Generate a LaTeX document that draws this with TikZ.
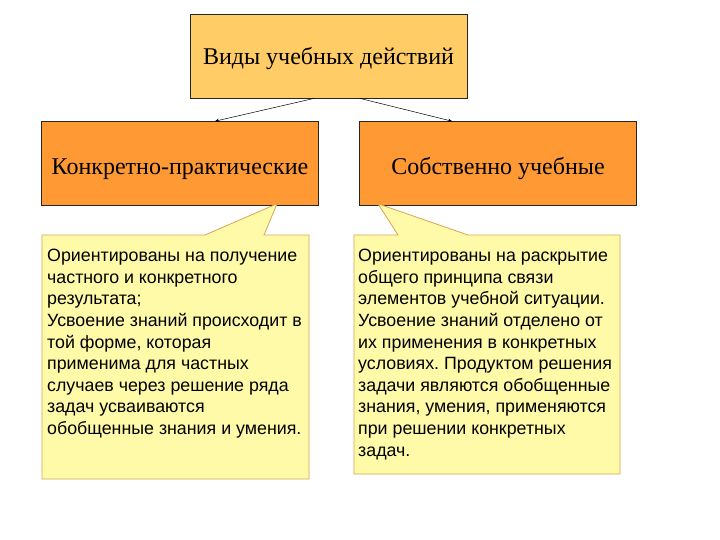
\documentclass[tikz,border=0pt]{standalone}
\usepackage{fontspec}
\setmainfont{Liberation Serif}
\setsansfont{Liberation Sans}
\usetikzlibrary{arrows.meta,positioning}
\frenchspacing

\definecolor{topfill}{HTML}{FFCC66}
\definecolor{kindfill}{HTML}{FF9933}
\definecolor{notefill}{HTML}{FFFAA8}
\definecolor{noteline}{HTML}{D6A453}

\tikzset{
  kindbox/.style={draw=black!85, line width=0.6pt, minimum width=277pt,
    minimum height=84pt, inner sep=0pt, text height=24pt, text depth=1pt,
    font=\fontsize{24}{28}\selectfont},
  notebox/.style={fill=notefill, draw=noteline, line width=0.8pt},
  notetext/.style={anchor=north west, inner sep=0pt, align=left,
    font=\sffamily\fontsize{17.8}{21.6}\selectfont},
  link/.style={line width=0.5pt, -{Stealth[length=4pt,width=3.5pt]}}
}

\begin{document}
\begin{tikzpicture}[x=1pt,y=-1pt]

    \useasboundingbox (0,0) rectangle (720,540);

    % top box
    \node[kindbox, fill=topfill, text height=19pt] (types) at (328.5,56) {Виды учебных действий};

    % two kinds
    \node[kindbox, fill=kindfill] (pract) at (180,163.5) {Конкретно-практические};
    \node[kindbox, fill=kindfill] (study) at (498,163.5) {Собственно учебные};

    % arrows
    \draw[link] ([xshift=-14pt]types.south) -- ([xshift=35pt]pract.north);
    \draw[link] ([xshift=31pt]types.south) -- ([xshift=-46pt]study.north);

    % callouts
    \coordinate (ptip) at ([xshift=97pt,yshift=2pt]pract.south);
    \coordinate (stip) at ([xshift=-120pt,yshift=2pt]study.south);
    \filldraw[notebox] (42,235) -- (205,235) -- (ptip) -- (264,235) -- (309,235)
        -- (309,479) -- (42,479) -- cycle;
    \filldraw[notebox] (354,235) -- (398,235) -- (stip) -- (468,235) -- (620,235)
        -- (620,474) -- (354,474) -- cycle;

    % texts
    \node[notetext] (ptext) at (47,249) {Ориентированы на получение\\
        частного и конкретного\\
        результата;\\
        Усвоение знаний происходит в\\
        той форме, которая\\
        применима для частных\\
        случаев через решение ряда\\
        задач усваиваются\\
        обобщенные знания и умения.};
    \node[notetext] (stext) at (358,249) {Ориентированы на раскрытие\\
        общего принципа связи\\
        элементов учебной ситуации.\\
        Усвоение знаний отделено от\\
        их применения в конкретных\\
        условиях. Продуктом решения\\
        задачи являются обобщенные\\
        знания, умения, применяются\\
        при решении конкретных\\
        задач.};

\end{tikzpicture}
\end{document}
